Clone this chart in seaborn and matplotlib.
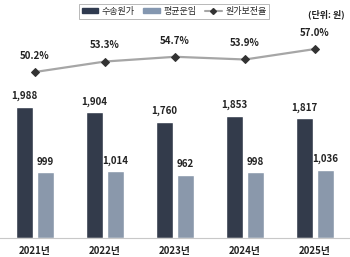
import matplotlib
matplotlib.use("Agg")
import matplotlib.pyplot as plt
from matplotlib.patches import Patch
from matplotlib.lines import Line2D
import seaborn as sns
import pandas as pd

years = ["2021년", "2022년", "2023년", "2024년", "2025년"]
cost = [1988, 1904, 1760, 1853, 1817]
fare = [999, 1014, 962, 998, 1036]
ratio = [50.2, 53.3, 54.7, 53.9, 57.0]
series_names = ["수송원가", "평균운임", "원가보전율"]
unit_label = "(단위: 원)"

sns.set_style("white")
plt.rcParams['font.family'] = ['Noto Sans CJK KR', 'DejaVu Sans']

dark = "#2f3a4f"
light = "#8497b0"

df = pd.DataFrame({
    "year": years * 2,
    "value": cost + fare,
    "series": [series_names[0]] * len(years) + [series_names[1]] * len(years),
})

fig = plt.figure(figsize=(3.5, 2.57), dpi=100)
ax = fig.add_axes([0.0, 0.074, 1.0, 0.926])
sns.barplot(data=df, x="year", y="value", hue="series", order=years,
            hue_order=series_names[:2], palette=[dark, light],
            width=0.6, gap=0.2, ax=ax, legend=False, errorbar=None)
ax.set_ylim(0, 3610)
ax.set_xlim(-0.5, 4.5)
for s in ["top", "right", "left"]:
    ax.spines[s].set_visible(False)
ax.spines["bottom"].set_color("#c8c8c8")
ax.spines["bottom"].set_linewidth(0.8)
ax.set_yticks([])
ax.set_xlabel("")
ax.set_ylabel("")
ax.tick_params(axis="x", length=0, pad=6)
for lab in ax.get_xticklabels():
    lab.set_fontsize(7)
    lab.set_fontweight("bold")
    lab.set_color("#222222")

for cont in ax.containers:
    labels = [f"{int(v):,}" for v in cont.datavalues]
    ax.bar_label(cont, labels=labels, padding=4, fontsize=7,
                 fontweight="bold", color="#222222")

ax2 = ax.twinx()
sns.lineplot(x=list(range(len(years))), y=ratio, ax=ax2, color="#a6a6a6",
             linewidth=1.6, marker="D", markersize=4.5,
             markerfacecolor="#333333", markeredgecolor="#333333")
ax2.set_ylim(1.1, 71.5)
ax2.set_yticks([])
for s in ["top", "right", "left", "bottom"]:
    ax2.spines[s].set_visible(False)
for i, r in enumerate(ratio):
    ax2.annotate(f"{r:.1f}%", (i, r), xytext=(0, 8), textcoords="offset points",
                 ha="center", va="bottom", fontsize=7, fontweight="bold",
                 color="#222222")

handles = [
    Patch(facecolor=dark, edgecolor=dark, label=series_names[0]),
    Patch(facecolor=light, edgecolor=light, label=series_names[1]),
    Line2D([0], [0], color="#a6a6a6", marker="D", markersize=3,
           markerfacecolor="#333333", markeredgecolor="#333333",
           label=series_names[2]),
]
leg = fig.legend(handles=handles, loc="center", bbox_to_anchor=(0.497, 0.955),
                 ncol=3, fontsize=6.5, frameon=True, fancybox=False,
                 handlelength=1.8, handleheight=0.5, handletextpad=0.4,
                 columnspacing=1.0, borderpad=0.3, edgecolor="#999999")
leg.get_frame().set_linewidth(0.6)

fig.text(0.985, 0.945, unit_label, ha="right", va="center", fontsize=6.5,
         fontweight="bold", color="#222222")

fig.savefig("out.png", dpi=100)
